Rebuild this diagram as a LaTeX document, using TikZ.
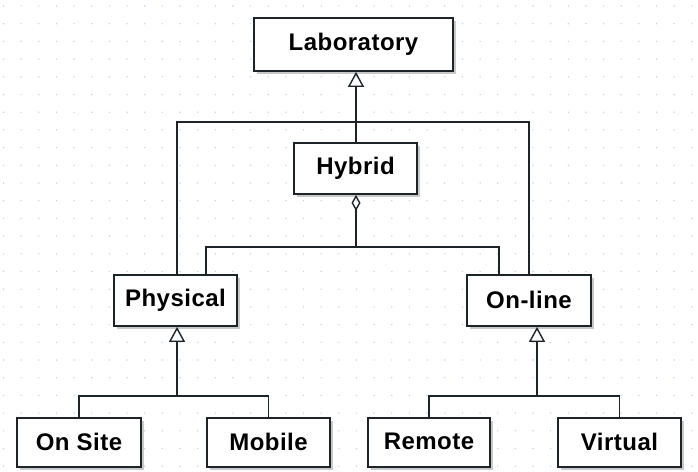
\documentclass[tikz,border=0pt]{standalone}
\usepackage{fontspec}
\setmainfont{Liberation Sans}
\usetikzlibrary{arrows.meta,shadows}
\definecolor{edge}{RGB}{28,36,40}
\definecolor{griddot}{RGB}{190,215,238}
\newcommand{\boxtext}[1]{\raisebox{2pt}{#1}}
\tikzset{
  box/.style={draw=edge, line width=1.8pt, fill=white, inner sep=0pt,
    minimum height=51pt, minimum width=123pt,
    font=\fontsize{24}{27}\selectfont\bfseries\addfontfeature{LetterSpace=2},
    drop shadow={shadow xshift=3pt, shadow yshift=-3pt, fill=black!35, opacity=0.6}},
  conn/.style={draw=edge, line width=1.4pt},
  gen/.style={conn, -{Triangle[open, length=15pt, width=16pt, line width=1.4pt]}},
  agg/.style={conn, {Diamond[open, length=16pt, width=9pt, line width=1.4pt]}-}
}
\begin{document}
\begin{tikzpicture}[x=1pt,y=-1pt]
\useasboundingbox (0,0) rectangle (698,471);
\fill[white] (0,0) rectangle (698,471);
\foreach \i in {0,...,39}{
  \foreach \j in {0,...,26}{
    \fill[griddot] (3.5+17.65*\i, 6+17.7*\j) circle (0.8pt);
  }
}
% nodes
\node[box, minimum width=199pt, minimum height=53pt] (lab) at (353.5,44.5) {\boxtext{Laboratory}};
\node[box] (hyb) at (355.5,168.5) {\boxtext{Hybrid}};
\node[box] (phys) at (175.5,300.5) {\boxtext{Physical}};
\node[box, minimum width=124pt] (online) at (529,300.5) {\boxtext{On-line}};
\node[box, minimum width=124pt, minimum height=49pt] (onsite) at (79,442.5) {\boxtext{On Site}};
\node[box, minimum width=123pt, minimum height=49pt] (mobile) at (268.5,442.5) {\boxtext{Mobile}};
\node[box, minimum width=122pt, minimum height=49pt] (remote) at (429,442.5) {\boxtext{Remote}};
\node[box, minimum width=123pt, minimum height=49pt] (virtual) at (619.5,442.5) {\boxtext{Virtual}};
% junction points
\coordinate (labbar) at (356,122);
\coordinate (hbar) at (356,247);
\coordinate (pbar) at (177,396);
\coordinate (obar) at (537,396);
% generalisation to Laboratory
\draw[conn] ([xshift=1.5pt]phys.north) |- (labbar);
\draw[conn] (online.north) |- (labbar);
\draw[gen] ([xshift=0.5pt]hyb.north) -- ([xshift=0.5pt]hyb.north |- lab.south);
% aggregation at Hybrid
\draw[agg] ([xshift=0.5pt]hyb.south) -- (hbar);
\draw[conn] (hbar) -| ([xshift=30.5pt]phys.north);
\draw[conn] (hbar) -| ([xshift=-30pt]online.north);
% generalisation to Physical
\draw[gen] (pbar) -- (pbar |- phys.south);
\draw[conn] (onsite.north) |- (pbar) -| (mobile.north);
% generalisation to On-line
\draw[gen] (obar) -- (obar |- online.south);
\draw[conn] (remote.north) |- (obar) -| (virtual.north);
\end{tikzpicture}
\end{document}
